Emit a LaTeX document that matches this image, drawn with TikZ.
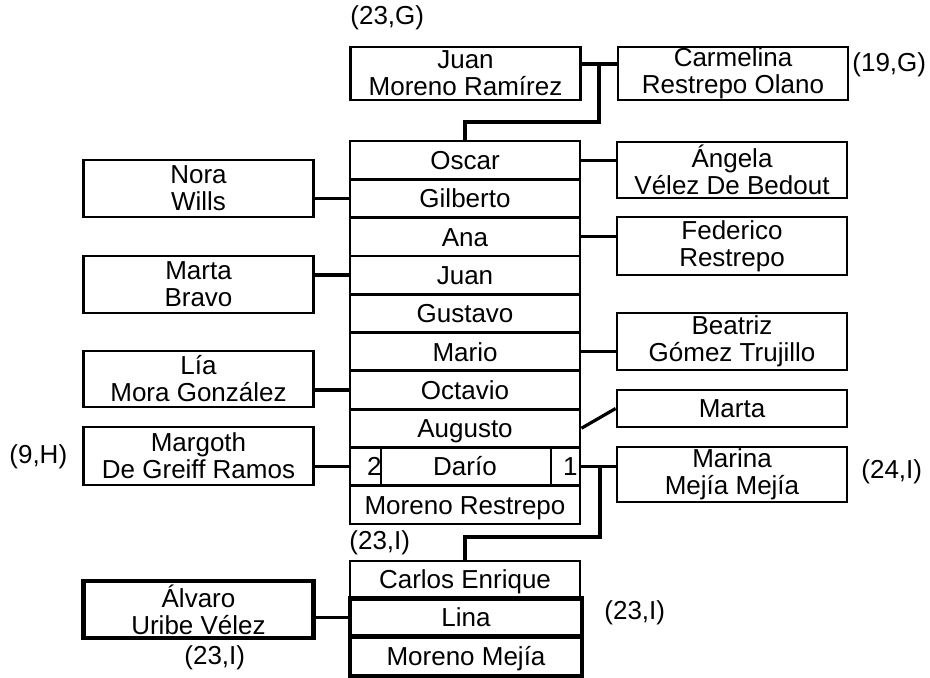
\documentclass[tikz,border=0pt]{standalone}
\usepackage{fontspec}
\setmainfont{Liberation Sans}
\usetikzlibrary{calc}
\begin{document}
\begin{tikzpicture}[x=0.5pt,y=-0.5pt,
  every node/.style={font=\fontsize{13}{13.5}\selectfont},
  person/.style={draw, line width=1.4pt, minimum width=115pt, inner sep=0pt, align=center},
  row/.style={draw, line width=1.4pt, minimum width=115pt, minimum height=19.15pt, inner sep=0pt, text height=9.4pt, text depth=0pt},
  thickrow/.style={row, line width=2.2pt},
  lbl/.style={anchor=west, inner sep=0pt},
  link/.style={line width=1.6pt}]
\useasboundingbox (0,0) rectangle (930,677);
% top couple
\node[person, minimum height=26.5pt] (juan) at (465.5,73.5) {Juan\\Moreno Ram\'irez};
\node[person, minimum height=26.5pt] (carm) at (733,73.5) {Carmelina\\Restrepo Olano};
% central column
\node[row] (oscar)    at (465,160.15) {Oscar};
\node[row] (gilberto) at (465,198.45) {Gilberto};
\node[row] (ana)      at (465,236.75) {Ana};
\node[row] (juanr)    at (465,275.05) {Juan};
\node[row] (gustavo)  at (465,313.35) {Gustavo};
\node[row] (mario)    at (465,351.65) {Mario};
\node[row] (octavio)  at (465,389.95) {Octavio};
\node[row] (augusto)  at (465,428.25) {Augusto};
\node[row] (dario)    at (465,466.55) {Dar\'io};
\node[row] (morenor)  at (465,504.85) {Moreno Restrepo};
\coordinate (d2) at (381,447.4);
\coordinate (d1) at (551,447.4);
\draw[line width=1.4pt] (d2) -- (d2 |- dario.south);
\draw[line width=1.4pt] (d1) -- (d1 |- dario.south);
\node[anchor=east, inner sep=0pt, text height=9.4pt, text depth=0pt] (n2) at (382,466.55) {2};
\node[anchor=east, inner sep=0pt, text height=9.4pt, text depth=0pt] (n1) at (578,466.55) {1};
% left spouses
\node[person, minimum height=28.5pt] (nora)    at (198.5,188.5) {Nora\\Wills};
\node[person, minimum height=28.5pt] (martab)  at (198.5,284.5) {Marta\\Bravo};
\node[person, minimum height=28pt]   (lia)     at (198.5,379)   {L\'ia\\Mora Gonz\'alez};
\node[person, minimum height=29pt]   (margoth) at (198.5,456)   {Margoth\\De Greiff Ramos};
% right spouses
\node[person, minimum height=28pt]   (angela)  at (732,170)   {\'Angela\\V\'elez De Bedout};
\node[person, minimum height=29pt]   (federico) at (732,246)  {Federico\\Restrepo};
\node[person, minimum height=28.5pt] (beatriz) at (732,341.5) {Beatriz\\G\'omez Trujillo};
\node[person, minimum height=18.5pt, text height=9.4pt, text depth=0pt] (marta) at (732,408.5) {Marta};
\node[person, minimum height=27.5pt] (marina)  at (732,474.5) {Marina\\Mej\'ia Mej\'ia};
% bottom family
\node[row, minimum height=18.5pt] (carlos) at (465,579.5) {Carlos Enrique};
\node[thickrow, minimum width=116pt] (lina)   at (466,617.5) {Lina};
\node[thickrow, minimum width=116pt, minimum height=19.5pt] (morenom) at (466,656.5) {Moreno Mej\'ia};
\node[person, line width=2.2pt, minimum height=28.5pt] (alvaro) at (198.5,609.5) {\'Alvaro\\Uribe V\'elez};
% labels
\node[lbl] (l1) at (350,18)  {(23,G)};
\node[lbl] (l2) at (852,65)  {(19,G)};
\node[lbl] (l3) at (9,457)   {(9,H)};
\node[lbl] (l4) at (861,472) {(24,I)};
\node[lbl] (l5) at (349,543) {(23,I)};
\node[lbl] (l6) at (604,613) {(23,I)};
\node[lbl] (l7) at (184,658) {(23,I)};
% connectors
\coordinate (jc) at (599,64);
\coordinate (jd) at (599,122);
\draw[link] (juan.east |- jc) -- (carm.west |- jc);
\draw[link] (jc) -- (jd) -| (oscar.north);
\draw[link] (oscar.east) -- (oscar.east -| angela.west);
\draw[link] (gilberto.west) -- (gilberto.west -| nora.east);
\draw[link] (ana.east) -- (ana.east -| federico.west);
\draw[link] (juanr.west) -- (juanr.west -| martab.east);
\draw[link] (mario.east) -- (mario.east -| beatriz.west);
\draw[link] (octavio.west) -- (octavio.west -| lia.east);
\draw[link] (augusto.east) -- (marta.west);
\draw[link] (dario.west) -- (dario.west -| margoth.east);
\draw[link] (dario.east) -- (dario.east -| marina.west);
\coordinate (dv) at (600,537);
\draw[link] (dv |- dario.east) -- (dv) -| (carlos.north);
\draw[link] (lina.west) -- (lina.west -| alvaro.east);
\end{tikzpicture}
\end{document}
